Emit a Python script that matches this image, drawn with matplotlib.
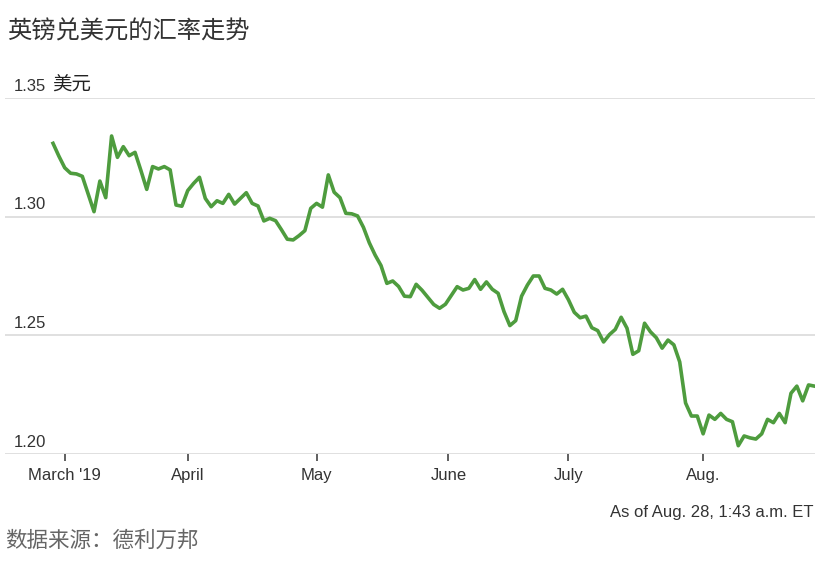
import numpy as np
import matplotlib.pyplot as plt
from matplotlib.transforms import blended_transform_factory

# GBP/USD daily close, weekdays Feb 27 - Aug 28, 2019
start = "2019-02-27"
end = "2019-08-29"
rates = [
    1.3309, 1.3255, 1.3206, 1.3183, 1.3180, 1.3170, 1.3095, 1.3021, 1.3150, 1.3080,
    1.3340, 1.3250, 1.3295, 1.3257, 1.3271, 1.3195, 1.3115, 1.3211, 1.3201, 1.3211,
    1.3197, 1.3049, 1.3044, 1.3110, 1.3140, 1.3166, 1.3077, 1.3042, 1.3067, 1.3056,
    1.3094, 1.3053, 1.3077, 1.3101, 1.3056, 1.3045, 1.2982, 1.2993, 1.2983, 1.2945,
    1.2905, 1.2902, 1.2920, 1.2941, 1.3035, 1.3056, 1.3040, 1.3176, 1.3103, 1.3080,
    1.3014, 1.3012, 1.3003, 1.2955, 1.2890, 1.2838, 1.2794, 1.2719, 1.2729, 1.2706,
    1.2665, 1.2663, 1.2715, 1.2690, 1.2660, 1.2630, 1.2614, 1.2631, 1.2668, 1.2705,
    1.2691, 1.2698, 1.2735, 1.2694, 1.2725, 1.2694, 1.2677, 1.2600, 1.2541, 1.2562,
    1.2665, 1.2712, 1.2750, 1.2750, 1.2698, 1.2691, 1.2674, 1.2694, 1.2650, 1.2597,
    1.2574, 1.2581, 1.2532, 1.2520, 1.2472, 1.2503, 1.2525, 1.2576, 1.2530, 1.2420,
    1.2435, 1.2551, 1.2515, 1.2490, 1.2446, 1.2480, 1.2460, 1.2388, 1.2215, 1.2160,
    1.2160, 1.2085, 1.2164, 1.2146, 1.2171, 1.2146, 1.2136, 1.2035, 1.2076, 1.2068,
    1.2063, 1.2085, 1.2146, 1.2132, 1.2171, 1.2132, 1.2256, 1.2286, 1.2224, 1.2291,
    1.2286,
]
tick_dates = ["2019-03-01", "2019-04-01", "2019-05-01", "2019-06-01", "2019-07-01", "2019-08-01"]
tick_labels = ["March '19", "April", "May", "June", "July", "Aug."]
y_ticks = [1.20, 1.25, 1.30, 1.35]
y_labels = ["1.20", "1.25", "1.30", "1.35"]

days = np.arange(start, end, dtype="datetime64[D]")
days = days[np.is_busday(days)]
x = np.arange(len(days))

def trading_pos(d):
    # weekend dates sit halfway between Friday and Monday
    n = np.busday_count(start, d)
    return n - 0.5 if not np.is_busday(np.datetime64(d)) else n

latin = ["Liberation Sans", "DejaVu Sans"]
cjk = ["Noto Sans CJK SC", "DejaVu Sans"]
grey = "#333333"

fig = plt.figure(figsize=(8.4, 5.61), dpi=100)
ax = fig.add_axes([5 / 840, 1 - 454 / 561, 810 / 840, 356 / 561])

ax.plot(x, rates[:len(x)], color="#4e9c3e", lw=2.6, solid_joinstyle="round", zorder=3)

ax.set_xlim(-8.2, 130.1)
ax.set_ylim(1.20, 1.35)
for v in y_ticks:
    ax.axhline(v, color="#e0e0e0", lw=1.4, zorder=1)

for s in ax.spines.values():
    s.set_visible(False)
ax.set_yticks([])
ax.set_xticks([trading_pos(d) for d in tick_dates])
ax.set_xticklabels(tick_labels, fontfamily=latin, fontsize=12, color=grey)
ax.tick_params(axis="x", length=5, width=1.2, color="#444444", pad=5)

tr = blended_transform_factory(ax.transAxes, ax.transData)
for v, lab in zip(y_ticks, y_labels):
    ax.annotate(lab, xy=(0, v), xycoords=tr, xytext=(6, 3), textcoords="offset points",
                ha="left", va="bottom", fontfamily=latin, fontsize=12, color=grey)
ax.annotate("美元", xy=(0, 1.35), xycoords=tr, xytext=(34, 2), textcoords="offset points",
            ha="left", va="bottom", fontfamily=cjk, fontsize=14, color="#222222")

fig.text(7 / 840, 1 - 32 / 561, "英镑兑美元的汇率走势", fontfamily=cjk, fontsize=17.5,
         fontweight="medium", color="#333333", va="center", ha="left")
fig.text(813 / 840, 1 - 512 / 561, "As of Aug. 28, 1:43 a.m. ET", fontfamily=latin,
         fontsize=12, color=grey, va="center", ha="right")
fig.text(5 / 840, 1 - 541 / 561, "数据来源：德利万邦", fontfamily=cjk, fontsize=15.5,
         color="#666666", va="center", ha="left")

fig.savefig("out.png", dpi=100)
